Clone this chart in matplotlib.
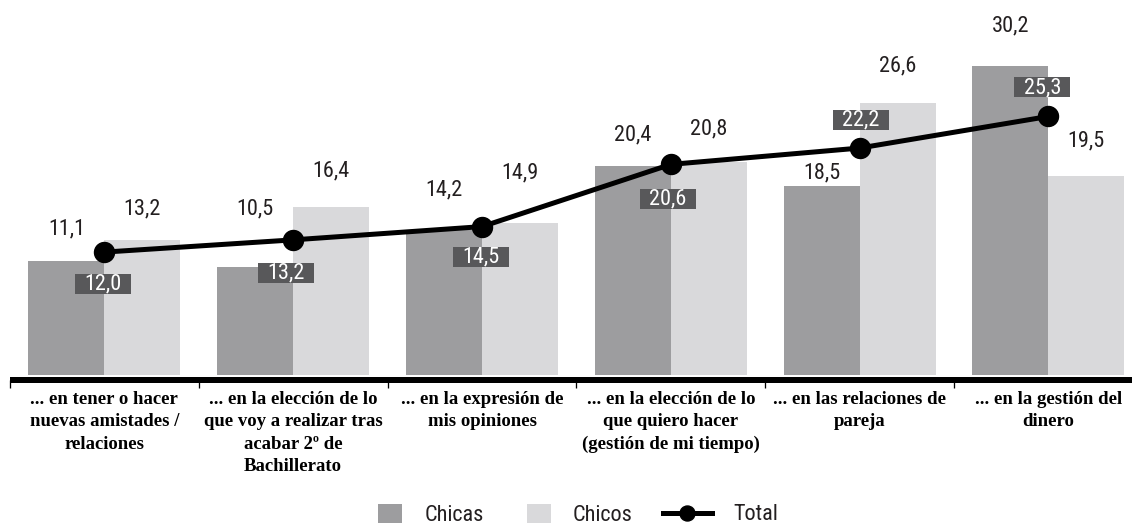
import matplotlib
matplotlib.use("Agg")
import matplotlib.pyplot as plt
from matplotlib import font_manager
from matplotlib.patches import Patch
from matplotlib.lines import Line2D
from matplotlib.path import Path
import numpy as np

# ---------------- data ----------------
categories = [
    "... en tener o hacer\nnuevas amistades /\nrelaciones",
    "... en la elección de lo\nque voy a realizar tras\nacabar 2º de\nBachillerato",
    "... en la expresión de\nmis opiniones",
    "... en la elección de lo\nque quiero hacer\n(gestión de mi tiempo)",
    "... en las relaciones de\npareja",
    "... en la gestión del\ndinero",
]
chicas = [11.1, 10.5, 14.2, 20.4, 18.5, 30.2]
chicos = [13.2, 16.4, 14.9, 20.8, 26.6, 19.5]
total = [12.0, 13.2, 14.5, 20.6, 22.2, 25.3]
series_names = ["Chicas", "Chicos", "Total"]

# ---------------- styles / positions ----------------
C_CHICAS = "#9d9d9f"
C_CHICOS = "#d9d9db"
C_BOX = "#58585a"
C_TEXT = "#231f20"

names = {f.name for f in font_manager.fontManager.ttflist}
NUM_FONT = "Liberation Sans"
for cand in ["Liberation Sans Narrow", "Roboto Condensed", "Open Sans Condensed", "Liberation Sans"]:
    if cand in names:
        NUM_FONT = cand
        break
CAT_FONT = "Liberation Serif"

PX = 72.0 / 100.0  # points per pixel at dpi 100
W, H = 1132, 526
fig = plt.figure(figsize=(W / 100, H / 100), dpi=100)

base_px = 374.5      # baseline pixel from top
scale = 10.2         # pixels per unit
left_px = 10
cat_w = 188.8
ax = fig.add_axes([left_px / W, (H - base_px) / H, 6 * cat_w / W, base_px / H])
ax.set_xlim(-0.5, 5.5)
ax.set_ylim(0, base_px / scale)

x = np.arange(len(categories))
bw = 76 / cat_w
ax.bar(x - bw / 2, chicas, width=bw, color=C_CHICAS, zorder=1)
ax.bar(x + bw / 2, chicos, width=bw, color=C_CHICOS, zorder=1)
ax.plot(x, total, color="black", lw=5 * PX, marker="o", ms=20 * PX, zorder=3)

# value label offsets (pixels above bar top)
off_chicas = [32, 58, 40, 31, 13, 41]
off_chicos = [31, 36, 50, 33, 37, 35]
# total box offsets (dx, dy) in pixels, dy positive = downwards
off_total = [(-1, 32), (-7, 33), (-1, 30), (-3, 35), (1, -28), (-6, -29)]

NUM_SIZE = 16
for xi, v, o in zip(x, chicas, off_chicas):
    ax.annotate(f"{v:.1f}".replace(".", ","), (xi - bw / 2, v), xytext=(0, o * PX),
                textcoords="offset points", ha="center", va="center",
                fontsize=NUM_SIZE, family=NUM_FONT, color=C_TEXT, zorder=4)
for xi, v, o in zip(x, chicos, off_chicos):
    ax.annotate(f"{v:.1f}".replace(".", ","), (xi + bw / 2, v), xytext=(0, o * PX),
                textcoords="offset points", ha="center", va="center",
                fontsize=NUM_SIZE, family=NUM_FONT, color=C_TEXT, zorder=4)


def box_style(x0, y0, width, height, mutation_size):
    padx = 0.42 * mutation_size
    pady = -0.02 * mutation_size
    x0 -= padx
    y0 -= pady
    x1 = x0 + width + 2 * padx
    y1 = y0 + height + 2 * pady
    return Path([(x0, y0), (x1, y0), (x1, y1), (x0, y1), (x0, y0)],
                closed=True)


for xi, v, (dx, dy) in zip(x, total, off_total):
    ax.annotate(f"{v:.1f}".replace(".", ","), (xi, v), xytext=(dx * PX, -dy * PX),
                textcoords="offset points", ha="center", va="center",
                fontsize=NUM_SIZE, family=NUM_FONT, color="white", zorder=5,
                bbox=dict(boxstyle=box_style, fc=C_BOX, ec="none"))

# axes styling
for s in ["top", "right", "left"]:
    ax.spines[s].set_visible(False)
ax.spines["bottom"].set_position(("outward", 5.5 * PX))
ax.spines["bottom"].set_linewidth(6 * PX)
ax.spines["bottom"].set_capstyle("butt")
ax.set_yticks([])
ax.set_xticks(x)
ax.set_xticklabels(categories, fontsize=13.5, family=CAT_FONT, fontweight="bold",
                   linespacing=1.4, color="black")
ax.tick_params(axis="x", which="major", length=0, pad=8)
ax.set_xticks(np.arange(-0.5, 6.0, 1.0), minor=True)
ax.tick_params(axis="x", which="minor", length=8 * PX, width=1.3 * PX, color="black",
               direction="out")

# legends
h_bars = [Patch(facecolor=C_CHICAS, edgecolor="none"),
          Patch(facecolor=C_CHICOS, edgecolor="none")]
leg1 = fig.legend(h_bars, series_names[:2], loc="center left",
                  bbox_to_anchor=(378 / W, 1 - 515 / H), ncol=2, frameon=False,
                  borderpad=0, borderaxespad=0, handlelength=1.08, handleheight=0.9,
                  handletextpad=1.0, columnspacing=1.94,
                  prop={"family": NUM_FONT, "size": NUM_SIZE})
for t in leg1.get_texts():
    t.set_color(C_TEXT)
h_line = [Line2D([], [], color="black", lw=5 * PX, marker="o", ms=15 * PX)]
leg2 = fig.legend(h_line, series_names[2:], loc="center left",
                  bbox_to_anchor=(663 / W, 1 - 515 / H), frameon=False,
                  borderpad=0, borderaxespad=0, handlelength=2.2,
                  handletextpad=0.95,
                  prop={"family": NUM_FONT, "size": NUM_SIZE})
for t in leg2.get_texts():
    t.set_color(C_TEXT)

fig.savefig("out.png", dpi=100)
